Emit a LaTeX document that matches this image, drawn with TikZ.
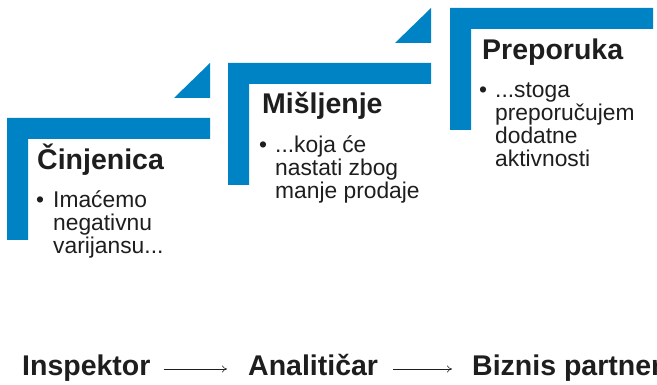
\documentclass[tikz,border=0pt]{standalone}
\usepackage{fontspec}
\setmainfont{Liberation Sans}
\usetikzlibrary{arrows.meta}
\definecolor{stepblue}{HTML}{0083C4}
\definecolor{ink}{HTML}{1E1E1E}
\tikzset{
  bar/.style={fill=stepblue, draw=none},
  title/.style={anchor=base west, inner sep=0pt, text=ink, font=\fontsize{28.5}{34}\selectfont\bfseries},
  bullet/.style={anchor=base west, inner sep=0pt, text=ink, font=\fontsize{22.8}{23}\selectfont},
  body/.style={anchor=base west, inner sep=0pt, text=ink, align=left, font=\fontsize{22.8}{23}\selectfont},
  role/.style={anchor=base west, inner sep=0pt, text=ink, font=\fontsize{28.5}{34}\selectfont\bfseries},
  flow/.style={draw=ink, line width=0.6pt, -{To[length=5pt,width=7pt]}}
}
\begin{document}
\begin{tikzpicture}[x=1pt,y=-1pt]
\useasboundingbox (0,0) rectangle (657,385);
% step shapes
\foreach \dx/\dy in {0/0, 221/-55, 443/-110}{
  \begin{scope}[shift={(\dx,\dy)}]
    \fill[bar] (7,118) -- (210,118) -- (210,139) -- (28,139) -- (28,240) -- (7,240) -- cycle;
  \end{scope}
}
\fill[bar] (174,98) -- (210,98) -- (210,63) -- cycle;
\fill[bar] (395,43) -- (431,43) -- (431,8) -- cycle;
% step 1 (body node: base anchor is the baseline of its last line)
\node[title] (t1) at (37,170) {Činjenica};
\node[bullet] (b1) at (36,208) {•};
\node[body] (x1) at (53,254) {Imaćemo\\negativnu\\varijansu...};
% step 2
\node[title] (t2) at (262,114) {Mišljenje};
\node[bullet] (b2) at (259,153) {•};
\node[body] (x2) at (275,199) {...koja će\\nastati zbog\\manje prodaje};
% step 3
\node[title] (t3) at (482,60) {Preporuka};
\node[bullet] (b3) at (479,98) {•};
\node[body] (x3) at (495,167) {...stoga\\preporučujem\\dodatne\\aktivnosti};
% bottom flow
\node[role] (r1) at (22,375) {Inspektor};
\node[role] (r2) at (248,375) {Analitičar};
\node[role] (r3) at (472,375) {Biznis partner};
\coordinate (a1s) at ([xshift=13pt,yshift=6pt]r1.base east);
\coordinate (a1e) at ([xshift=-21pt,yshift=6pt]r2.base west);
\coordinate (a2s) at ([xshift=15pt,yshift=6pt]r2.base east);
\coordinate (a2e) at ([xshift=-20pt,yshift=6pt]r3.base west);
\draw[flow] (a1s) -- (a1e);
\draw[flow] (a2s) -- (a2e);
\end{tikzpicture}
\end{document}
